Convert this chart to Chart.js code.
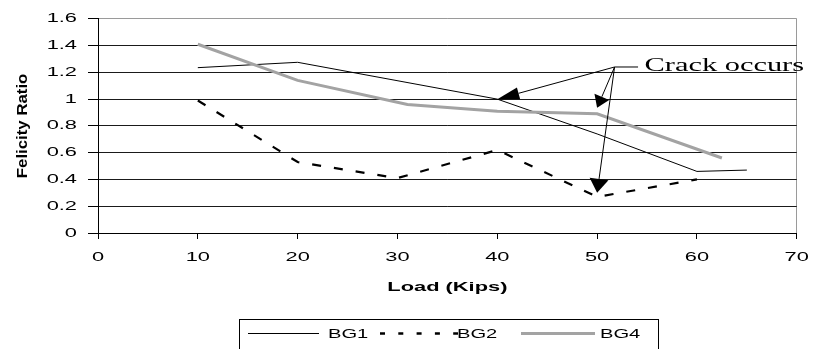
<!DOCTYPE html>
<html>
<head>
<meta charset="utf-8">
<script src="https://cdn.jsdelivr.net/npm/chart.js@4/dist/chart.umd.min.js"></script>
<style>
  html, body { margin: 0; padding: 0; background: #fff; }
  canvas { display: block; }
</style>
</head>
<body>
<canvas id="c" width="815" height="349"></canvas>
<script>
// ---- data ----
const bg1Load  = [10, 20, 40, 50, 60, 65];
const bg1Ratio = [1.235, 1.275, 1.0, 0.74, 0.46, 0.47];

const bg2Load  = [10, 20, 30, 40, 50, 60];
const bg2Ratio = [0.99, 0.53, 0.41, 0.62, 0.27, 0.40];

const bg4Load  = [10, 20, 31, 40, 50, 62.5];
const bg4Ratio = [1.41, 1.14, 0.96, 0.91, 0.89, 0.56];

const seriesNames = ['BG1', 'BG2', 'BG4'];
const xTickLabels = ['0', '10', '20', '30', '40', '50', '60', '70'];
const yTickLabels = ['0', '0.2', '0.4', '0.6', '0.8', '1', '1.2', '1.4', '1.6'];
const xTitle = 'Load (Kips)';
const yTitle = 'Felicity Ratio';

// annotation (data-space anchors)
const crackLabel = 'Crack occurs';
const crackOrigin = [51.75, 1.24];
const crackTips = [[40, 1.0], [50, 0.935], [50, 0.30]];

// ---- stretched text (the source image is widened horizontally) ----
window.__textStretch = 1.68;
window.__rotStretch = 1.12;
const origFill = CanvasRenderingContext2D.prototype.fillText;
CanvasRenderingContext2D.prototype.fillText = function (text, x, y, maxWidth) {
  const t = this.getTransform();
  const rotated = (t.b !== 0 || t.c !== 0);
  const sx = rotated ? (window.__rotStretch || 1) : (window.__textStretch || 1);
  const hasMax = arguments.length > 3 && maxWidth !== undefined;
  if (sx === 1) {
    return hasMax ? origFill.call(this, text, x, y, maxWidth) : origFill.call(this, text, x, y);
  }
  this.save();
  this.translate(x, y);
  this.scale(sx, 1);
  if (hasMax) origFill.call(this, text, 0, 0, maxWidth / sx);
  else origFill.call(this, text, 0, 0);
  this.restore();
};

const FONT = '"Liberation Sans", Arial, sans-serif';
const pts = (xs, ys) => xs.map((x, i) => ({ x: x, y: ys[i] }));

const annotationPlugin = {
  id: 'crackAnnot',
  afterDatasetsDraw(chart) {
    const ctx = chart.ctx, xs = chart.scales.x, ys = chart.scales.y;
    const ox = xs.getPixelForValue(crackOrigin[0]);
    const oy = ys.getPixelForValue(crackOrigin[1]);
    const heads = [[22, 6], [12, 8], [14, 9.5]];
    ctx.save();
    ctx.strokeStyle = '#000';
    ctx.fillStyle = '#000';
    ctx.lineWidth = 1;
    crackTips.forEach((tp, i) => {
      const tx = xs.getPixelForValue(tp[0]);
      const ty = ys.getPixelForValue(tp[1]);
      const dx = tx - ox, dy = ty - oy;
      const len = Math.hypot(dx, dy);
      const ux = dx / len, uy = dy / len;
      const [hl, hw] = heads[i];
      const bx = tx - ux * hl, by = ty - uy * hl;
      ctx.beginPath();
      ctx.moveTo(ox, oy);
      ctx.lineTo(bx, by);
      ctx.stroke();
      ctx.beginPath();
      ctx.moveTo(tx, ty);
      ctx.lineTo(bx - uy * hw, by + ux * hw);
      ctx.lineTo(bx + uy * hw, by - ux * hw);
      ctx.closePath();
      ctx.fill();
    });
    // leader to the label
    const lx = xs.getPixelForValue(54.1);
    ctx.beginPath();
    ctx.moveTo(ox, oy);
    ctx.lineTo(lx, oy);
    ctx.stroke();
    window.__textStretch = 1.6;
    ctx.font = '19px "Liberation Serif", "Times New Roman", serif';
    ctx.textAlign = 'left';
    ctx.textBaseline = 'alphabetic';
    ctx.fillText(crackLabel, xs.getPixelForValue(54.75), oy + 4);
    window.__textStretch = 1.68;
    ctx.restore();
  }
};

const legendPlugin = {
  id: 'boxLegend',
  afterDraw(chart) {
    const ctx = chart.ctx;
    ctx.save();
    ctx.strokeStyle = '#000';
    ctx.lineWidth = 1;
    ctx.strokeRect(239.5, 319.5, 419, 40);
    const y = 333.5;
    const items = [
      { x0: 248, x1: 319, tx: 328 },
      { x0: 380, x1: 458, tx: 457 },
      { x0: 521, x1: 595, tx: 600 }
    ];
    const dsets = chart.data.datasets;
    items.forEach((it, i) => {
      const ds = dsets[i];
      ctx.strokeStyle = ds.borderColor;
      ctx.lineWidth = i === 1 ? 2.5 : ds.borderWidth;
      ctx.setLineDash(i === 1 ? [5, 13.3] : []);
      ctx.beginPath();
      ctx.moveTo(it.x0, y);
      ctx.lineTo(it.x1, y);
      ctx.stroke();
      ctx.setLineDash([]);
      window.__textStretch = 1.55;
      ctx.fillStyle = '#000';
      ctx.font = '13px ' + FONT;
      ctx.textAlign = 'left';
      ctx.textBaseline = 'middle';
      ctx.fillText(seriesNames[i], it.tx, y + 0.5);
      window.__textStretch = 1.68;
    });
    ctx.restore();
  }
};

new Chart(document.getElementById('c'), {
  type: 'line',
  data: {
    datasets: [
      { label: seriesNames[0], data: pts(bg1Load, bg1Ratio), borderColor: '#000000', borderWidth: 1,
        pointRadius: 0, tension: 0, fill: false, order: 3 },
      { label: seriesNames[1], data: pts(bg2Load, bg2Ratio), borderColor: '#000000', borderWidth: 2.2,
        borderDash: [9, 13], pointRadius: 0, tension: 0, fill: false, order: 2 },
      { label: seriesNames[2], data: pts(bg4Load, bg4Ratio), borderColor: '#a3a3a3', borderWidth: 3,
        pointRadius: 0, tension: 0, fill: false, order: 1 }
    ]
  },
  options: {
    responsive: false,
    animation: false,
    devicePixelRatio: 1,
    layout: { padding: { left: 0, top: 16, right: 15, bottom: 0 } },
    plugins: { legend: { display: false }, tooltip: { enabled: false } },
    scales: {
      x: {
        type: 'linear', min: 0, max: 70,
        afterFit(s) { s.height = 116; },
        ticks: {
          stepSize: 10, padding: 11, color: '#000', font: { size: 13, family: FONT },
          callback: (v) => xTickLabels[Math.round(v / 10)]
        },
        grid: {
          color: (c) => (c.tick && c.tick.value === 70 ? '#9a9a9a' : 'rgba(0,0,0,0)'),
          tickColor: '#000', tickLength: 6, lineWidth: 1
        },
        border: { color: '#000', width: 1 },
        title: {
          display: true, text: xTitle, color: '#000',
          font: { size: 13, weight: 'bold', family: FONT },
          padding: { top: 0, bottom: 54 }
        }
      },
      y: {
        type: 'linear', min: 0, max: 1.6,
        afterFit(s) { s.width = 98; },
        ticks: {
          stepSize: 0.2, padding: 11, color: '#000', font: { size: 13, family: FONT },
          callback: (v) => yTickLabels[Math.round(v / 0.2)]
        },
        grid: {
          color: (c) => (c.tick && Math.abs(c.tick.value - 1.6) < 1e-6 ? '#9a9a9a' : '#1a1a1a'),
          tickColor: '#000', tickLength: 10, lineWidth: 1
        },
        border: { color: '#000', width: 1 },
        title: {
          display: true, text: yTitle, color: '#000',
          font: { size: 15, weight: 'bold', family: FONT },
          padding: { top: 14, bottom: 0 }
        }
      }
    }
  },
  plugins: [annotationPlugin, legendPlugin]
});
</script>
</body>
</html>
